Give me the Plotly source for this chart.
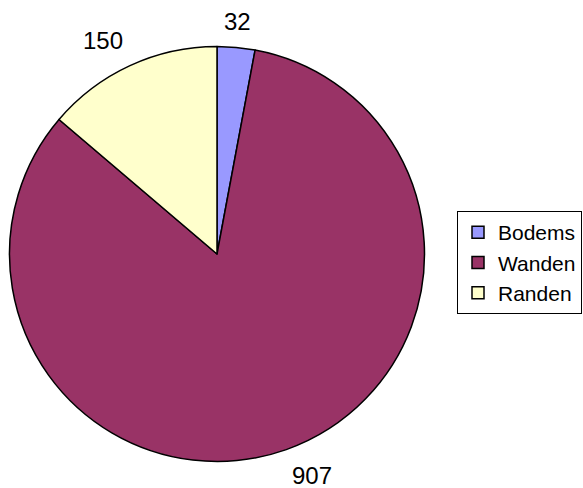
import math
import plotly.graph_objects as go

labels = ["Bodems", "Wanden", "Randen"]
values = [32, 907, 150]
colors = ["#9999FF", "#993366", "#FFFFCC"]

W, H = 583, 488
cx, cy, r = 217, 254, 205
rd = r + 2.5  # plotly draws the pie slightly inside its domain
FONT = "Liberation Sans, Arial"

fig = go.Figure(go.Pie(
    labels=labels, values=values, sort=False, direction="clockwise", rotation=0,
    marker=dict(colors=colors, line=dict(color="black", width=1.5)),
    textinfo="none",
    domain=dict(x=[(cx - rd) / W, (cx + rd) / W], y=[(H - cy - rd) / H, (H - cy + rd) / H]),
    hoverinfo="label+value",
))

# data labels: the label corner nearest the pie sits on a circle around it
total = sum(values)
cum = 0
label_r = 222
for v in values:
    mid = (cum + v / 2) / total * 2 * math.pi
    cum += v
    s, c = math.sin(mid), math.cos(mid)
    px = cx + label_r * s
    py = cy - label_r * c
    xa = "left" if s > 0.2 else ("right" if s < -0.2 else "center")
    ya = "bottom" if c > 0 else "top"
    fig.add_annotation(x=px / W, y=1 - py / H, xref="paper", yref="paper",
                       text=str(v), showarrow=False, xanchor=xa, yanchor=ya,
                       height=22, borderpad=0,
                       font=dict(family=FONT, size=24, color="black"))

fig.update_layout(
    width=W, height=H, margin=dict(l=0, r=0, t=0, b=0),
    paper_bgcolor="white", plot_bgcolor="white",
    font=dict(family=FONT, size=21, color="black"),
    legend=dict(x=457 / W, y=(H - 211) / H, xanchor="left", yanchor="top",
                bordercolor="black", borderwidth=1, bgcolor="white",
                font=dict(family=FONT, size=21), tracegroupgap=0),
    showlegend=True,
)
fig.write_html("out.html", post_script="document.body.style.margin='0';",
               config={"displayModeBar": False})
